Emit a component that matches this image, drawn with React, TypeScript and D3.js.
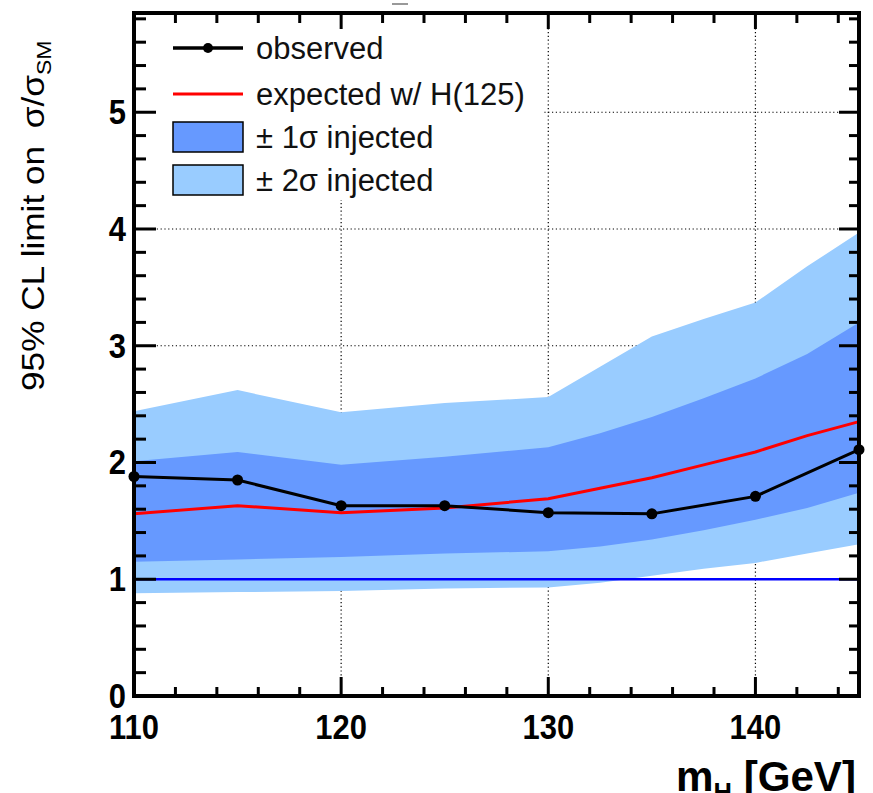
import React from "react";
import * as d3 from "d3";

const massGrid = [110, 115, 120, 125, 130, 132.5, 135, 137.5, 140, 142.5, 145];
const up2 = [2.44, 2.62, 2.43, 2.51, 2.56, 2.82, 3.08, 3.23, 3.37, 3.68, 3.97];
const up1 = [2.01, 2.09, 1.98, 2.05, 2.13, 2.25, 2.39, 2.55, 2.72, 2.93, 3.2];
const lo1 = [1.15, 1.17, 1.19, 1.22, 1.24, 1.28, 1.34, 1.42, 1.51, 1.61, 1.74];
const lo2 = [0.88, 0.89, 0.9, 0.92, 0.93, 0.97, 1.03, 1.09, 1.14, 1.22, 1.3];
const expected = [1.56, 1.63, 1.57, 1.61, 1.69, 1.78, 1.87, 1.98, 2.09, 2.23, 2.35];

const obsMass = [110, 115, 120, 125, 130, 135, 140, 145];
const observed = [1.88, 1.85, 1.63, 1.63, 1.57, 1.56, 1.71, 2.11];

const xTicks = [110, 120, 130, 140];
const yTicks = [0, 1, 2, 3, 4, 5];
const legendLabels = ["observed", "expected w/ H(125)", "± 1σ injected", "± 2σ injected"];

const W = 873;
const H = 793;
const L = 134, R = 859, T = 13, B = 696;

export default function App() {
  const x = d3.scaleLinear().domain([110, 145]).range([L, R]);
  const y = d3.scaleLinear().domain([0, 5.85]).range([B, T]);

  const band = (lo: number[], hi: number[]) =>
    d3.area<number>()
      .x((_, i) => x(massGrid[i]))
      .y0((_, i) => y(lo[i]))
      .y1((_, i) => y(hi[i]))(massGrid.map((_, i) => i)) || "";

  const line = d3.line<[number, number]>().x(d => x(d[0])).y(d => y(d[1]));
  const expPath = line(massGrid.map((m, i) => [m, expected[i]] as [number, number])) || "";
  const obsPts = obsMass.map((m, i) => [m, observed[i]] as [number, number]);
  const obsPath = line(obsPts) || "";

  const xMinor = d3.range(110, 145.01, 2).filter(v => !xTicks.includes(v));
  const yMinor = d3.range(0, 5.81, 0.2).map(v => +v.toFixed(1)).filter(v => !yTicks.includes(v));

  const tickFont = "'Liberation Sans', Arial, sans-serif";
  const majY = 22, minY = 12, majX = 19, minX = 9;
  const lx0 = 173, lx1 = 243, ltx = 256;
  const rows = [48, 94, 137, 180];

  return (
    <svg width={W} height={H} style={{ display: "block", position: "absolute", left: 0, top: 0 }}>
      <rect x={0} y={0} width={W} height={H} fill="#fff" />
      {/* grid */}
      <g stroke="#000" strokeWidth={1.2} strokeDasharray="1.2,2.6">
        {xTicks.filter(v => v > 110).map(v => (
          <line key={"gx" + v} x1={x(v)} x2={x(v)} y1={T} y2={B} />
        ))}
        {yTicks.filter(v => v > 0).map(v => (
          <line key={"gy" + v} x1={L} x2={R} y1={y(v)} y2={y(v)} />
        ))}
      </g>
      {/* bands */}
      <path d={band(lo2, up2)} fill="#99ccff" />
      <path d={band(lo1, up1)} fill="#6699ff" />
      <line x1={L} x2={R} y1={y(1)} y2={y(1)} stroke="#0000ff" strokeWidth={2.5} />
      <path d={expPath} fill="none" stroke="#ff0000" strokeWidth={3} />
      <path d={obsPath} fill="none" stroke="#000" strokeWidth={3} />
      {obsPts.map((p, i) => (
        <circle key={"m" + i} cx={x(p[0])} cy={y(p[1])} r={5.5} fill="#000" />
      ))}
      {/* legend */}
      <rect x={L + 2} y={T + 2} width={543 - L - 2} height={200 - T - 2} fill="#fff" />
      <line x1={lx0} x2={lx1} y1={rows[0]} y2={rows[0]} stroke="#000" strokeWidth={3.5} />
      <circle cx={(lx0 + lx1) / 2} cy={rows[0]} r={5} fill="#000" />
      <line x1={lx0} x2={lx1} y1={rows[1]} y2={rows[1]} stroke="#ff0000" strokeWidth={3} />
      <rect x={lx0} y={122} width={lx1 - lx0} height={30} fill="#6699ff" stroke="#000" strokeWidth={1.5} />
      <rect x={lx0} y={165} width={lx1 - lx0} height={30} fill="#99ccff" stroke="#000" strokeWidth={1.5} />
      <g fontFamily={tickFont} fontSize={31} fill="#111">
        {legendLabels.map((t, i) => (
          <text key={t} x={ltx} y={rows[i] + 11}>{t}</text>
        ))}
      </g>
      {/* frame & ticks */}
      <g stroke="#000" strokeWidth={3}>
        {xTicks.concat([145]).map(v => (
          <g key={"xt" + v}>
            <line x1={x(v)} x2={x(v)} y1={B} y2={B - majX} />
            <line x1={x(v)} x2={x(v)} y1={T} y2={T + 16} />
          </g>
        ))}
        {xMinor.map(v => (
          <g key={"xm" + v}>
            <line x1={x(v)} x2={x(v)} y1={B} y2={B - minX} />
            <line x1={x(v)} x2={x(v)} y1={T} y2={T + 10} />
          </g>
        ))}
        {yTicks.map(v => (
          <g key={"yt" + v}>
            <line x1={L} x2={L + majY} y1={y(v)} y2={y(v)} />
            <line x1={R} x2={R - 20} y1={y(v)} y2={y(v)} />
          </g>
        ))}
        {yMinor.map(v => (
          <g key={"ym" + v}>
            <line x1={L} x2={L + minY} y1={y(v)} y2={y(v)} />
            <line x1={R} x2={R - 10} y1={y(v)} y2={y(v)} />
          </g>
        ))}
        <rect x={L} y={T} width={R - L} height={B - T} fill="none" strokeWidth={4} />
      </g>
      {/* tick labels */}
      <g fontFamily={tickFont} fontWeight="bold" fontSize={36} fill="#000">
        {yTicks.map(v => (
          <g key={"yl" + v} transform={`translate(126,${y(v) + 12}) scale(0.86,1)`}>
            <text textAnchor="end">{v}</text>
          </g>
        ))}
        {xTicks.map(v => (
          <g key={"xl" + v} transform={`translate(${x(v)},739) scale(0.86,1)`}>
            <text textAnchor="middle">{v}</text>
          </g>
        ))}
      </g>
      {/* axis titles */}
      <g transform="translate(856,791) scale(0.98,1)">
        <text fontFamily={tickFont} fontWeight="bold" fontSize={43} textAnchor="end">
          m<tspan fontSize={26} dy={10}>H</tspan><tspan dy={-10}> [GeV]</tspan>
        </text>
      </g>
      <g transform="translate(44,391) rotate(-90) scale(1.1,1)">
        <text fontFamily={tickFont} fontSize={32} x={0} y={0}>
          95% CL limit on<tspan dx={16}>σ/σ</tspan><tspan fontSize={21} dy={7}>SM</tspan>
        </text>
      </g>
      <line x1={392} x2={408} y1={4} y2={4} stroke="#999" strokeWidth={2} />
    </svg>
  );
}
